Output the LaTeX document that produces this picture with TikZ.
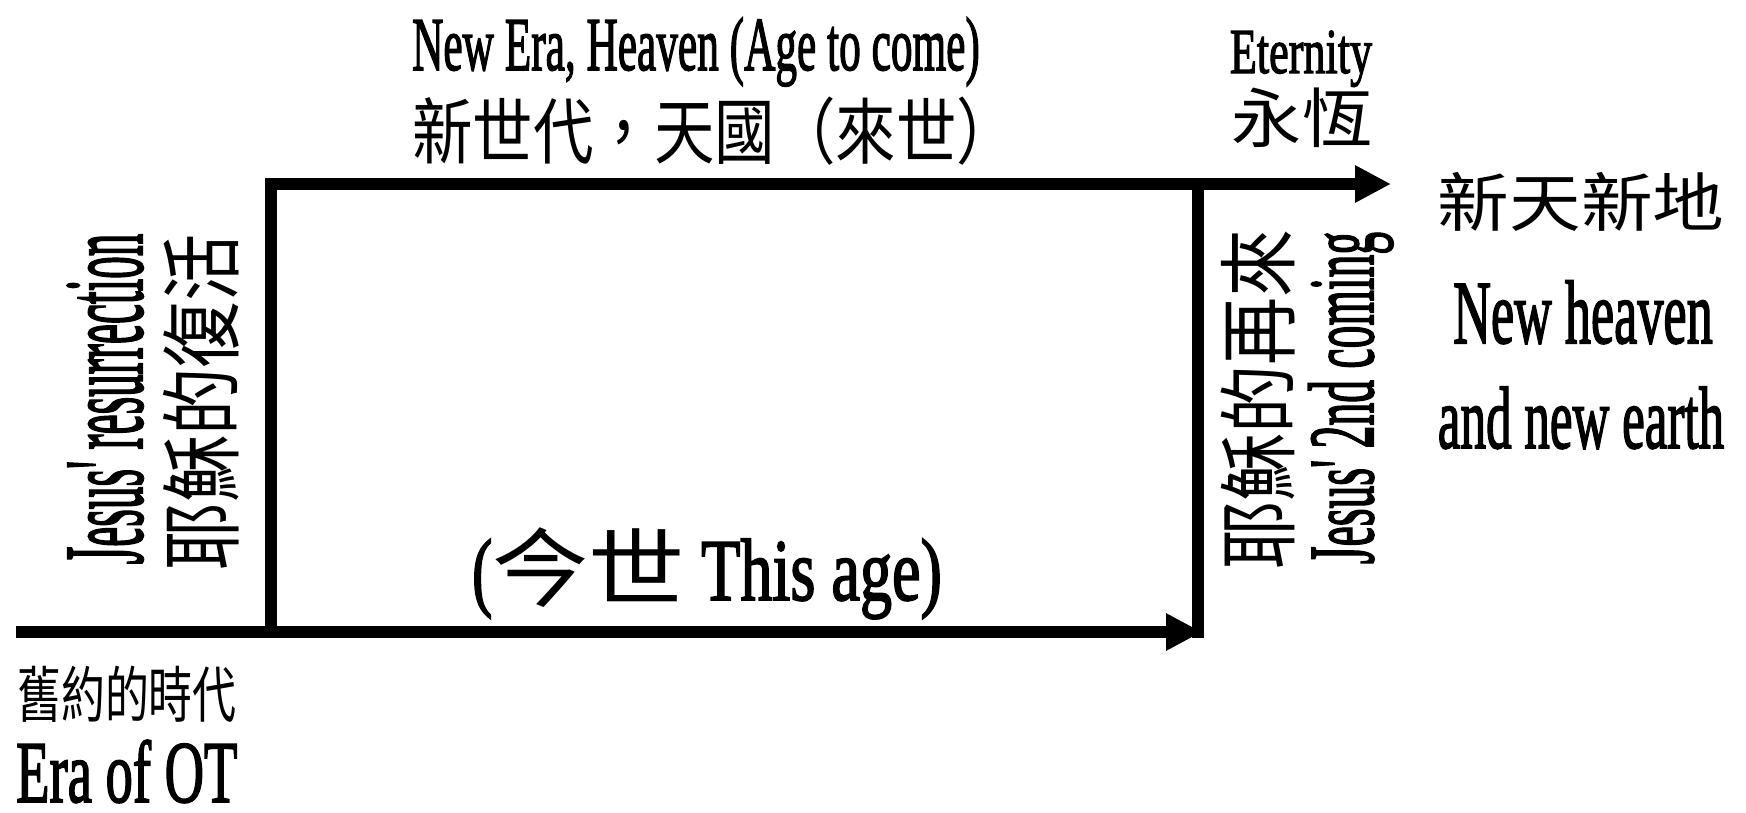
\documentclass[tikz,border=0pt]{standalone}
\usepackage{graphicx}
\usepackage{fontspec}
\setmainfont{Liberation Serif}[FakeBold=2.2]
\newfontfamily\cjk{Noto Sans CJK TC}
\usetikzlibrary{arrows.meta}

% size, horizontal squeeze, text
\newcommand{\entxt}[3]{\scalebox{#2}[1]{\fontsize{#1}{#1}\selectfont #3}}
\newcommand{\zhtxt}[3]{\scalebox{#2}[1]{\fontsize{#1}{#1}\selectfont\cjk #3}}

\begin{document}
\begin{tikzpicture}[x=1pt, y=-1pt, lbl/.style={inner sep=0pt}, ln/.style={line width=11.5pt}, ar/.style={line width=11.5pt, -{Triangle[length=36pt, width=35pt]}}]
        \useasboundingbox (0,0) rectangle (1746,812);

        \coordinate (ot) at (16,632);
        \coordinate (rise) at (271,632);
        \coordinate (risetop) at (271,184);
        \coordinate (eternal) at (1391,184);
        \coordinate (cometop) at (1198,178);
        \coordinate (comebot) at (1198,638);
        \coordinate (thisend) at (1202,632);

        % top labels
        \node[lbl, anchor=base] (newera) at (696,70) {\entxt{76}{0.57}{New Era, Heaven (Age to come)}};
        \node[lbl, anchor=west] (neweraz) at (412,131) {\zhtxt{72}{0.84}{新世代，天國（來世）}};
        \node[lbl, anchor=base] (etern) at (1301,73) {\entxt{64}{0.69}{Eternity}};
        \node[lbl] (eternz) at (1302,118) {\zhtxt{65}{1.08}{永恆}};

        % right labels
        \node[lbl] (newearthz) at (1581,202) {\zhtxt{64}{1.12}{新天新地}};
        \node[lbl, anchor=base] (newheaven) at (1583,343) {\entxt{90}{0.58}{New heaven}};
        \node[lbl, anchor=base] (newearth) at (1581,448) {\entxt{88}{0.58}{and new earth}};

        % vertical labels
        \node[lbl, anchor=base, rotate=90] (resur) at (142,399) {\entxt{113}{0.40}{Jesus\textquotesingle{} resurrection}};
        \node[lbl, rotate=90] (resurz) at (201,402) {\zhtxt{82}{0.82}{耶穌的復活}};
        \node[lbl, rotate=90] (comingz) at (1258,399) {\zhtxt{80}{0.85}{耶穌的再來}};
        \node[lbl, anchor=base, rotate=90] (coming) at (1373,398) {\entxt{93}{0.49}{Jesus\textquotesingle{} 2nd coming}};

        % bottom labels
        \node[lbl, anchor=base] (thisage) at (707,600) {\entxt{88}{0.70}{(}\zhtxt{86}{1.12}{今世}\entxt{88}{0.73}{ This age)}};
        \node[lbl, anchor=west] (otz) at (17,694) {\zhtxt{61}{0.72}{舊約的時代}};
        \node[lbl, anchor=base west] (ote) at (16,802) {\entxt{88}{0.62}{Era of OT}};

        \draw[ar] (ot) -- (thisend);
        \draw[ar] (rise) -- (risetop) -- (eternal);
        \draw[ln] (cometop) -- (comebot);
    \end{tikzpicture}
\end{document}
